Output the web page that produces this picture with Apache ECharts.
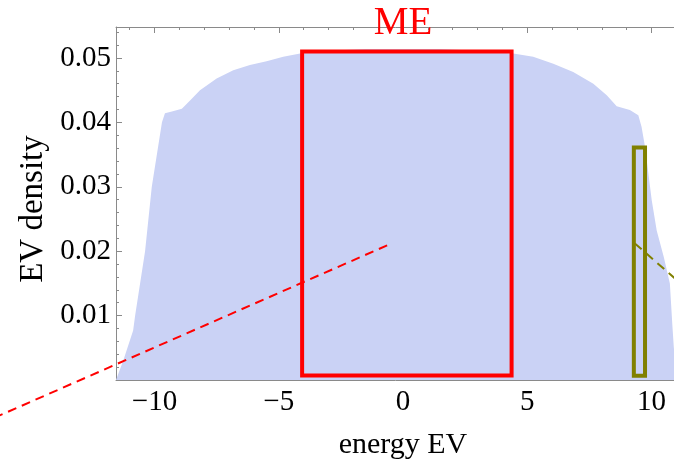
<!DOCTYPE html>
<html><head><meta charset="utf-8">
<script src="https://cdn.jsdelivr.net/npm/echarts@6/dist/echarts.min.js"></script>
<style>html,body{margin:0;padding:0;background:#fff}#c{width:674px;height:463px}</style>
</head><body><div id="c"></div>
<script>
// density outline
const densityX = [-11.55, -11.5, -11.25, -10.86, -10.78, -10.38, -10.11, -9.70, -9.58, -9.3, -8.90, -8.57, -8.17, -7.50, -6.83, -6.16, -5.49, -4.82, -4.14, -3.0, -1.5, 0, 1.5, 3.0, 4.44, 5.24, 6.05, 6.85, 7.66, 8.20, 8.60, 9.13, 9.47, 9.60, 9.74, 10.01, 10.21, 10.5, 10.74, 10.84, 10.9, 11.0, 11.15, 11.55];
const densityY = [0, 0.0003, 0.0031, 0.0077, 0.0100, 0.0200, 0.0300, 0.0400, 0.0414, 0.0417, 0.0421, 0.0434, 0.0450, 0.0468, 0.0481, 0.0489, 0.0495, 0.0502, 0.0507, 0.0511, 0.0514, 0.0514, 0.0514, 0.0511, 0.0507, 0.0502, 0.0491, 0.0478, 0.0460, 0.0442, 0.0425, 0.0419, 0.0411, 0.0393, 0.0362, 0.0279, 0.0232, 0.0190, 0.0150, 0.0085, 0.0050, 0.0020, 0, 0];
// boxes: [xFrom, xTo, yFrom, yTo]
const meBox = [-4.06, 4.37, 0.0007, 0.0510];
const edgeBox = [9.29, 9.74, 0.00065, 0.0361];
const meLabel = 'ME';
const meLabelX = 0;
// dashed guide lines
const meGuideX = [-17, -0.52];
const meGuideY = [-0.0068, 0.0211];
const edgeGuideX = [9.33, 12];
const edgeGuideY = [0.0212, 0.0122];
// tick labels
const xTickValues = [-10, -5, 0, 5, 10];
const yTickValues = [0.01, 0.02, 0.03, 0.04, 0.05];
const xTitle = 'energy EV';
const yTitle = 'EV density';

const zip = (a, b) => a.map((v, i) => [v, b[i]]);
const SERIF = '"Liberation Serif", "DejaVu Serif", serif';
const AXIS_GRAY = '#8a8a8a';

function fmtX(v) {
  if (!xTickValues.some(t => Math.abs(t - v) < 1e-9)) return '';
  return v < 0 ? '\u2212' + (-v) : String(v);
}
function fmtY(v) {
  if (!yTickValues.some(t => Math.abs(t - v) < 1e-9)) return '';
  return v.toFixed(2);
}

function boxRenderer(color, label) {
  return function (params, api) {
    const p0 = api.coord([api.value(0), api.value(3)]);
    const p1 = api.coord([api.value(1), api.value(2)]);
    const children = [{
      type: 'rect',
      shape: { x: p0[0], y: p0[1], width: p1[0] - p0[0], height: p1[1] - p0[1] },
      style: { fill: null, stroke: color, lineWidth: 4, lineJoin: 'miter' }
    }];
    if (label) {
      const lp = api.coord([meLabelX, api.value(3)]);
      children.push({
        type: 'text', x: lp[0], y: lp[1] - 28,
        style: { text: label, fill: color, font: '39px ' + SERIF, align: 'center', verticalAlign: 'middle' }
      });
    }
    return { type: 'group', children };
  };
}

// draws the dashed guide through all its data points (not clipped to the grid)
function guideSeries(xs, ys, color) {
  return {
    type: 'custom', data: zip(xs, ys), clip: false, z: 4, silent: true,
    encode: { x: 0, y: 1 },
    renderItem: function (params, api) {
      if (params.dataIndex !== 0) return null;
      const pts = xs.map((x, i) => api.coord([x, ys[i]]));
      return {
        type: 'polyline', shape: { points: pts },
        style: { fill: null, stroke: color, lineWidth: 2, lineDash: [9, 6] }
      };
    }
  };
}

const baseX = {
  type: 'value', min: -11.55, max: 11.55, splitNumber: 5,
  axisLine: { show: true, onZero: false, lineStyle: { color: AXIS_GRAY, width: 1 } },
  axisTick: { show: true, inside: true, length: 6, lineStyle: { color: AXIS_GRAY } },
  minorTick: { show: true, splitNumber: 5, length: 3, lineStyle: { color: AXIS_GRAY } },
  splitLine: { show: false }, minorSplitLine: { show: false }
};

const chart = echarts.init(document.getElementById('c'), null, { renderer: 'canvas' });
chart.setOption({
  animation: false,
  backgroundColor: '#fff',
  grid: { left: 116, width: 574, top: 27, bottom: 83, containLabel: false, outerBoundsMode: 'none' },
  xAxis: [
    Object.assign({}, baseX, {
      position: 'bottom',
      axisLabel: { show: true, margin: 8, color: '#000', fontFamily: SERIF, fontSize: 29, formatter: fmtX },
      name: xTitle, nameLocation: 'middle', nameGap: 50,
      nameTextStyle: { color: '#000', fontFamily: SERIF, fontSize: 30 }
    }),
    Object.assign({}, baseX, { position: 'top', axisLabel: { show: false } })
  ],
  yAxis: {
    type: 'value', min: 0, max: 0.0548, interval: 0.01,
    axisLine: { show: true, onZero: false, lineStyle: { color: AXIS_GRAY, width: 1 } },
    axisTick: { show: true, inside: true, length: 6, lineStyle: { color: AXIS_GRAY } },
    minorTick: { show: true, splitNumber: 5, length: 3, lineStyle: { color: AXIS_GRAY } },
    splitLine: { show: false },
    axisLabel: { show: true, margin: 5, color: '#000', fontFamily: SERIF, fontSize: 29, formatter: fmtY },
    name: yTitle, nameLocation: 'middle', nameGap: 63, nameRotate: 90,
    nameTextStyle: { color: '#000', fontFamily: SERIF, fontSize: 33, padding: [0, 11, 0, 0] }
  },
  series: [
    {
      type: 'line', data: zip(densityX, densityY), symbol: 'none', smooth: false,
      lineStyle: { width: 0, color: '#cad2f5' }, areaStyle: { color: '#cad2f5', opacity: 1 },
      z: 1, silent: true
    },
    {
      type: 'custom', data: [meBox], renderItem: boxRenderer('#ff0000', meLabel),
      encode: { x: [0, 1], y: [2, 3] }, clip: false, z: 3, silent: true
    },
    {
      type: 'custom', data: [edgeBox], renderItem: boxRenderer('#808000', null),
      encode: { x: [0, 1], y: [2, 3] }, clip: false, z: 3, silent: true
    },
    guideSeries(meGuideX, meGuideY, '#ff0000'),
    guideSeries(edgeGuideX, edgeGuideY, '#808000')
  ]
});
</script></body></html>
